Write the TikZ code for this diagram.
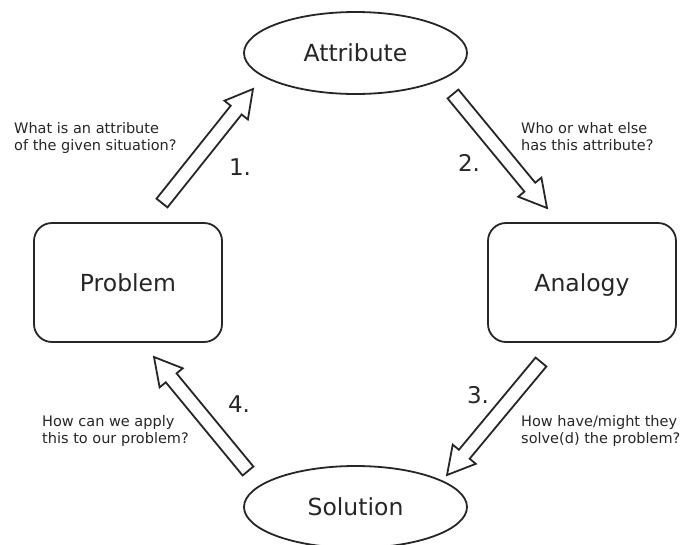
\documentclass[tikz,border=0pt]{standalone}
\usepackage{fontspec}
\setmainfont{DejaVu Sans}
\usepackage{xcolor}
\usepackage{tikz}
\usetikzlibrary{arrows.meta, positioning, shapes.geometric, calc}

\definecolor{ink}{HTML}{262626}

% hollow block arrow from #1 (tail) to #2 (tip)
\newcommand{\hollowarrow}[2]{%
  \coordinate (hb) at ($(#2)!27pt!(#1)$);
  \draw[bigarrow] ($(#1)!7pt!90:(#2)$) -- ($(hb)!7pt!90:(#2)$) -- ($(hb)!15pt!90:(#2)$)
    -- (#2) -- ($(hb)!15pt!-90:(#2)$) -- ($(hb)!7pt!-90:(#2)$) -- ($(#1)!7pt!-90:(#2)$) -- cycle;
}

\begin{document}
\begin{tikzpicture}[
    x=1pt, y=-1pt,
    every node/.style={text=ink},
    term/.style={ellipse, draw=ink, line width=1.8pt, minimum width=223pt, minimum height=82pt, inner sep=0pt, font=\fontsize{23.5}{28}\selectfont},
    proc/.style={rectangle, rounded corners=18pt, draw=ink, line width=1.8pt, minimum width=188pt, minimum height=119pt, text height=17pt, text depth=0pt, font=\fontsize{23.5}{28}\selectfont},
    ask/.style={anchor=north west, inner sep=0pt, align=left, font=\fontsize{14.5}{17}\selectfont},
    num/.style={anchor=base, inner sep=0pt, font=\fontsize{23}{28}\selectfont},
    bigarrow/.style={draw=ink, line width=1.8pt, fill=white, line join=miter}
]
\useasboundingbox (0,0) rectangle (696,544);

\node[term] (attr) at (355.5,53) {Attribute};
\node[proc] (problem) at (128,282.5) {Problem};
\node[proc] (analogy) at (582,282.5) {Analogy};
\node[term] (solution) at (355.5,507) {Solution};

% arrow ends
\coordinate (s1) at (162,203); \coordinate (t1) at (253,89);
\coordinate (s2) at (453,94);  \coordinate (t2) at (547,208);
\coordinate (s3) at (541,362); \coordinate (t3) at (447,475);
\coordinate (s4) at (248,471); \coordinate (t4) at (154,357);

\hollowarrow{s1}{t1}
\hollowarrow{s2}{t2}
\hollowarrow{s3}{t3}
\hollowarrow{s4}{t4}

\node[num] (n1) at (240,175) {1.};
\node[num] (n2) at (469,171) {2.};
\node[num] (n3) at (478,403) {3.};
\node[num] (n4) at (239,412) {4.};

\node[ask] (q1) at (14,122) {What is an attribute\\of the given situation?};
\node[ask] (q2) at (521,122) {Who or what else\\has this attribute?};
\node[ask] (q3) at (521,415) {How have/might they\\solve(d) the problem?};
\node[ask] (q4) at (42,415) {How can we apply\\this to our problem?};

\end{tikzpicture}
\end{document}
